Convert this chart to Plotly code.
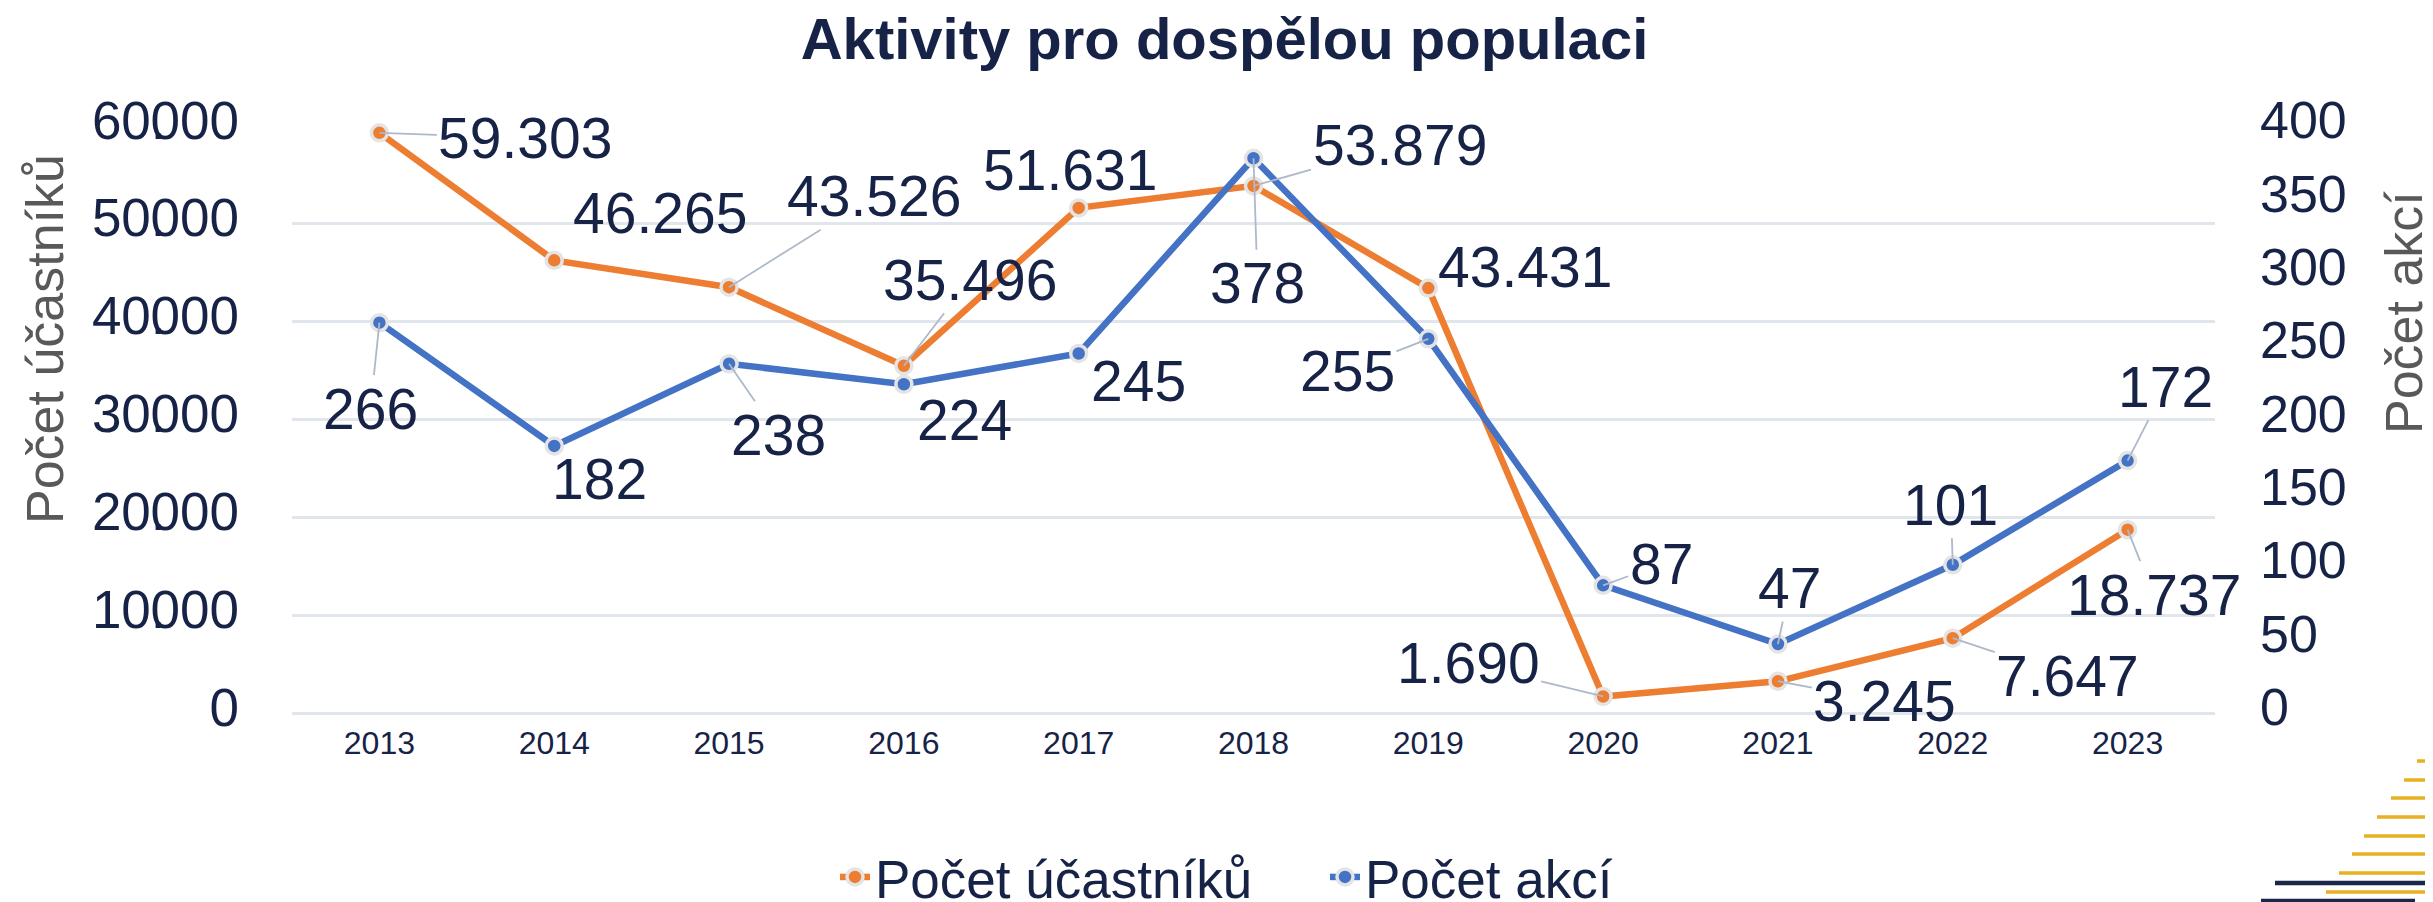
import plotly.graph_objects as go

# ---------------- data ----------------
years = ["2013", "2014", "2015", "2016", "2017", "2018", "2019", "2020", "2021", "2022", "2023"]
ucastniku = [59303, 46265, 43526, 35496, 51631, 53879, 43431, 1690, 3245, 7647, 18737]
akci = [266, 182, 238, 224, 245, 378, 255, 87, 47, 101, 172]

left_ticks = [0, 10000, 20000, 30000, 40000, 50000, 60000]
right_ticks = [0, 50, 100, 150, 200, 250, 300, 350, 400]

# label offsets (pixels, label centre relative to point) and leader-line flags
ucast_dx = [146, 106, 145, 66, -9, 146, 97, -135, 107, 115, 26]
ucast_dy = [5, -47, -91, -86, -38, -41, -21, -33, 20, 38, 65]
ucast_leader = [1, 0, 1, 1, 0, 1, 0, 1, 1, 1, 1]
akci_dx = [-9, 45, 49, 61, 60, 4, -81, 58, 12, -2, 38]
akci_dy = [86, 33, 71, 36, 28, 125, 32, -21, -56, -60, -74]
akci_leader = [1, 0, 1, 0, 0, 1, 1, 1, 1, 1, 1]

# ---------------- style ----------------
NAVY = "#172346"
GRAY = "#595959"
ORANGE = "#ED7D31"
BLUE = "#4472C4"
GRID = "#e1e5ec"
LEADER = "#adb9ca"
FONT = "Arial, Liberation Sans, sans-serif"

W, H = 2433, 902
L, R, T, B = 284, 226, 118, 197
PW, PH = W - L - R, H - T - B


def px2paper(x, y):
    return (x - L) / PW, (H - B - y) / PH


def fmt(v):
    return f"{v:,}".replace(",", ".")


def tick_fmt(v):
    s = fmt(v)
    if "." in s:
        a, b = s.split(".", 1)
        return f'{a}<span style="letter-spacing:-15px">.</span>{b}'
    return s


fig = go.Figure()
marker_line = dict(color="#e4e4e4", width=3.5)
fig.add_trace(go.Scatter(
    x=years, y=ucastniku, name="Počet účastníků", mode="lines+markers",
    line=dict(color=ORANGE, width=6.5),
    marker=dict(color=ORANGE, size=16, line=marker_line),
    cliponaxis=False, yaxis="y",
))
fig.add_trace(go.Scatter(
    x=years, y=akci, name="Počet akcí", mode="lines+markers",
    line=dict(color=BLUE, width=6.5),
    marker=dict(color=BLUE, size=16, line=marker_line),
    cliponaxis=False, yaxis="y2",
))

annotations = []
for i, (v, dx, dy, ld) in enumerate(zip(ucastniku, ucast_dx, ucast_dy, ucast_leader)):
    annotations.append(dict(
        x=i, y=v, xref="x", yref="y", text=fmt(v), showarrow=True,
        ax=dx, ay=dy, arrowhead=0, arrowwidth=1.8, standoff=0,
        arrowcolor=LEADER if ld else "rgba(0,0,0,0)",
        font=dict(size=57, color=NAVY, family=FONT),
    ))
for i, (v, dx, dy, ld) in enumerate(zip(akci, akci_dx, akci_dy, akci_leader)):
    annotations.append(dict(
        x=i, y=v, xref="x", yref="y2", text=fmt(v), showarrow=True,
        ax=dx, ay=dy, arrowhead=0, arrowwidth=1.8, standoff=0,
        arrowcolor=LEADER if ld else "rgba(0,0,0,0)",
        font=dict(size=57, color=NAVY, family=FONT),
    ))

# axis titles (offset from axis centre as in the reference)
lx, ly = px2paper(37, 331)
rx, ry = px2paper(2396, 305)
annotations.append(dict(x=lx, y=ly, xref="paper", yref="paper", text="Počet účastníků",
                        textangle=-90, showarrow=False, xanchor="center", yanchor="middle",
                        font=dict(size=52, color=GRAY, family=FONT)))
annotations.append(dict(x=rx, y=ry, xref="paper", yref="paper", text="Počet akcí",
                        textangle=-90, showarrow=False, xanchor="center", yanchor="middle",
                        font=dict(size=52, color=GRAY, family=FONT)))

# decorative lines bottom-right
shapes = []
gold_y = [734, 753, 772, 790, 809, 828, 846, 865, 884, 902]
gold_x0 = [2422, 2409, 2396, 2383, 2369, 2356, 2344, 2331, 2318, 2304]
for gy, gx in zip(gold_y, gold_x0):
    x0, y0 = px2paper(gx, gy)
    x1, _ = px2paper(2440, gy)
    shapes.append(dict(type="line", xref="paper", yref="paper", x0=x0, x1=x1, y0=y0, y1=y0,
                       line=dict(color="#E6B020", width=3.5), layer="above"))
for ny, nx0, nx1 in [(875, 2267, 2420), (893, 2253, 2407)]:
    x0, y0 = px2paper(nx0, ny)
    x1, _ = px2paper(nx1, ny)
    shapes.append(dict(type="line", xref="paper", yref="paper", x0=x0, x1=x1, y0=y0, y1=y0,
                       line=dict(color="#1b2748", width=4.5), layer="above"))

leg_x, leg_y = px2paper(827, 869)

fig.update_layout(
    width=W, height=H,
    margin=dict(l=L, r=R, t=T, b=B, autoexpand=False),
    paper_bgcolor="white", plot_bgcolor="white",
    font=dict(family=FONT, color=NAVY),
    title=dict(text="<b>Aktivity pro dospělou populaci</b>", x=0.5, xref="container",
               y=1 - 31 / H, yref="container", xanchor="center", yanchor="middle",
               font=dict(size=58, color=NAVY, family=FONT)),
    xaxis=dict(type="category", range=[-0.5, 10.5], showgrid=False, zeroline=False,
               showline=False, ticks="", ticklabelstandoff=8,
               tickfont=dict(size=32, color=NAVY, family=FONT)),
    yaxis=dict(range=[0, 60000], tickvals=left_ticks, ticktext=[tick_fmt(v) for v in left_ticks],
               showgrid=True, gridcolor=GRID, gridwidth=2.5, zeroline=True, zerolinecolor=GRID,
               zerolinewidth=2.5, showline=False, ticks="", ticklabelstandoff=52,
               ticklabelshift=-6,
               tickfont=dict(size=53, color=NAVY, family=FONT)),
    yaxis2=dict(range=[0, 400], tickvals=right_ticks, ticktext=[str(v) for v in right_ticks],
                overlaying="y", side="right", showgrid=False, zeroline=False, showline=False,
                ticks="", ticklabelstandoff=44, ticklabelshift=-6,
                tickfont=dict(size=52, color=NAVY, family=FONT)),
    legend=dict(orientation="h", x=leg_x, y=leg_y, xanchor="left", yanchor="middle",
                font=dict(size=53, color=NAVY, family=FONT), bgcolor="rgba(0,0,0,0)",
                entrywidth=445, entrywidthmode="pixels", itemwidth=30, tracegroupgap=0),
    showlegend=True,
    annotations=annotations,
    shapes=shapes,
)

fig.write_html("out.html")
